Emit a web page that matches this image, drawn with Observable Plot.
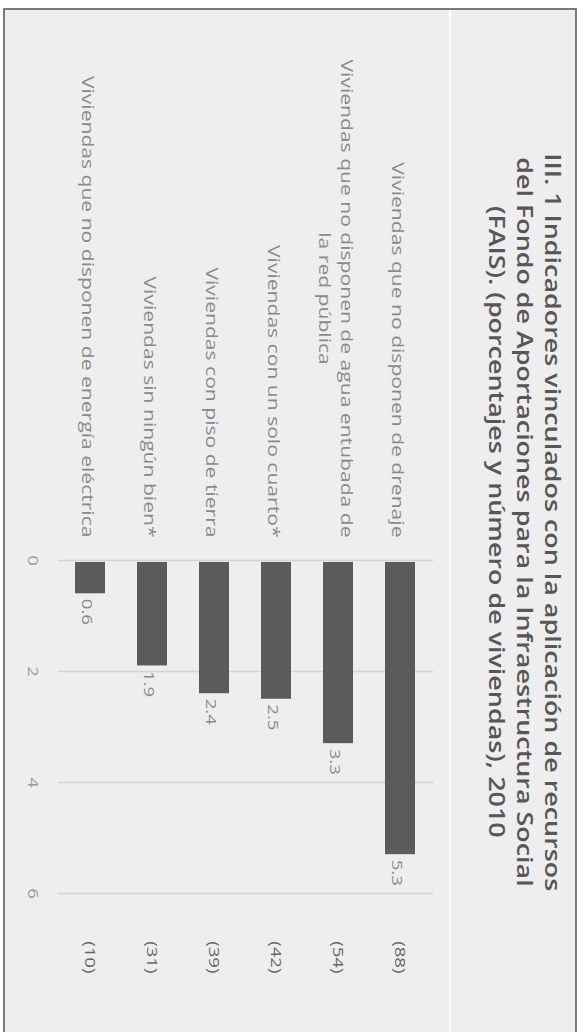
<!DOCTYPE html>
<html>
<head>
<meta charset="utf-8">
<script src="https://cdn.jsdelivr.net/npm/d3@7"></script>
<script src="https://cdn.jsdelivr.net/npm/@observablehq/plot@0.6"></script>
<style>
  html, body { margin: 0; padding: 0; background: #fff; overflow: hidden; }
  #wrap {
    position: absolute; left: 0; top: 0; width: 1032px; height: 583px;
    transform-origin: 0 0; transform: translate(583px, 0) rotate(90deg);
    font-family: "Open Sans", sans-serif;
  }
  #box {
    position: absolute; left: 8px; top: 6px; width: 1040px; height: 570px;
    border: 2px solid #7a7a7a; border-right: none; background: #eeeeee;
  }
  #sep { position: absolute; left: 10px; top: 132px; width: 1030px; height: 2px; background: #ffffff; }
  #title {
    position: absolute; left: 12px; top: 16px; width: 1020px; text-align: center;
    font-size: 21px; font-weight: 600; line-height: 28px; color: #575757;
  }
  #title span { display: inline-block; transform: scaleX(1.28); transform-origin: 50% 50%; white-space: nowrap; }
  #chart { position: absolute; left: 0; top: 0; }
</style>
</head>
<body>
<div id="wrap">
  <div id="box"></div>
  <div id="sep"></div>
  <div id="title"><span>III. 1 Indicadores vinculados con la aplicación de recursos</span><br><span>del Fondo de Aportaciones para la Infraestructura Social</span><br><span>(FAIS). (porcentajes y número de viviendas), 2010</span></div>
  <div id="chart"></div>
</div>
<script>
const categories = [
  "Viviendas que no disponen de drenaje",
  "Viviendas que no disponen de agua entubada de la red pública",
  "Viviendas con un solo cuarto*",
  "Viviendas con piso de tierra",
  "Viviendas sin ningún bien*",
  "Viviendas que no disponen de energía eléctrica"
];
const values = [5.3, 3.3, 2.5, 2.4, 1.9, 0.6];
const counts = [88, 54, 42, 39, 31, 10];
const ticks = [0, 2, 4, 6];

const data = categories.map((c, i) => ({category: c, value: values[i], count: counts[i]}));

function wrap(s) {
  const maxChars = 46;
  const words = s.split(" ");
  const lines = [];
  let cur = "";
  for (const w of words) {
    const t = cur ? cur + " " + w : w;
    if (t.length > maxChars && cur) { lines.push(cur); cur = w; } else cur = t;
  }
  if (cur) lines.push(cur);
  return lines.join("\n");
}

const chart = Plot.plot({
  width: 1032,
  height: 583,
  marginLeft: 560,
  marginRight: 139,
  marginTop: 150,
  marginBottom: 58,
  x: {domain: [0, 6], axis: null},
  y: {domain: categories, axis: null, paddingInner: 0.52, paddingOuter: 0.255},
  style: {fontFamily: "'Open Sans', sans-serif", background: "transparent", overflow: "visible"},
  marks: [
    Plot.ruleX(ticks, {stroke: "#d4d4d4", strokeWidth: 1.5}),
    Plot.barX(data, {x: "value", y: "category", fill: "#5b5b5d", insetLeft: 2}),
    Plot.text(data, {x: "value", y: "category", text: d => d.value.toFixed(1), textAnchor: "start", dx: 5, dy: 3, fill: "#8a8a8a", fontSize: 15}),
    Plot.text(data, {y: "category", text: d => `(${d.count})`, frameAnchor: "right", dx: 80, fill: "#666666", fontSize: 15}),
    Plot.text(categories, {y: d => d, text: wrap, frameAnchor: "left", dx: -23, textAnchor: "end", fill: "#8a8a8a", fontSize: 17, lineHeight: 1.3}),
    Plot.text(ticks, {x: d => d, text: d => String(d), frameAnchor: "bottom", dy: 30, fill: "#9a9a9a", fontSize: 15})
  ]
});
document.getElementById("chart").appendChild(chart);

// the reference is stretched along the text direction: widen glyphs accordingly
const K = 1.24;
chart.querySelectorAll("text").forEach(t => {
  const ts = t.querySelectorAll("tspan");
  if (ts.length >= 2) {
    const w1 = ts[0].getComputedTextLength();
    ts.forEach(s => {
      const w = s.getComputedTextLength();
      s.setAttribute("textLength", w * K);
      s.setAttribute("lengthAdjust", "spacingAndGlyphs");
    });
    ts[1].setAttribute("x", -w1 * K / 2);
    ts[1].setAttribute("text-anchor", "middle");
  } else {
    const w = t.getComputedTextLength();
    t.setAttribute("textLength", w * K);
    t.setAttribute("lengthAdjust", "spacingAndGlyphs");
  }
});
</script>
</body>
</html>
